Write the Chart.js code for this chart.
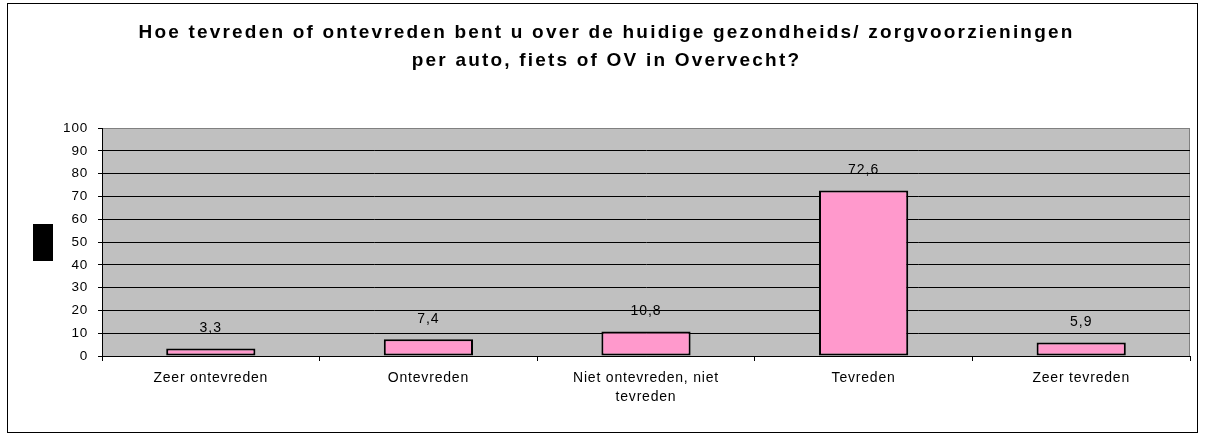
<!DOCTYPE html>
<html>
<head>
<meta charset="utf-8">
<script src="https://cdn.jsdelivr.net/npm/chart.js@4/dist/chart.umd.min.js"></script>
<style>
  html, body { margin: 0; padding: 0; background: #fff; }
  #wrap { width: 1207px; height: 436px; position: relative; }
</style>
</head>
<body>
<div id="wrap"><canvas id="chart"></canvas></div>
<script>
'use strict';

// Data
const categories = [
    'Zeer ontevreden',
    'Ontevreden',
    ['Niet ontevreden, niet', 'tevreden'],
    'Tevreden',
    'Zeer tevreden',
];
const percentages = [3.3, 7.4, 10.8, 72.6, 5.9];
const yTicks = [0, 10, 20, 30, 40, 50, 60, 70, 80, 90, 100];
const titleLines = [
    'Hoe tevreden of ontevreden bent u over de huidige gezondheids/ zorgvoorzieningen',
    'per auto, fiets of OV in Overvecht?',
];

const FONT = 'Arial, "Liberation Sans", sans-serif';

// Grey plot background, outer frame, title and the small black legend key
const frame = {
    id: 'frame',
    beforeDraw(chart) {
        const { ctx, chartArea: a } = chart;
        ctx.save();
        ctx.fillStyle = '#c0c0c0';
        ctx.fillRect(a.left, a.top, a.right - a.left, a.bottom - a.top);
        ctx.strokeStyle = '#808080';
        ctx.lineWidth = 1;
        ctx.strokeRect(a.left + 0.5, a.top + 0.5, a.right - a.left - 1, a.bottom - a.top);
        ctx.strokeStyle = '#000';
        ctx.strokeRect(7.5, 3.5, 1190, 429);
        ctx.fillStyle = '#000';
        ctx.fillRect(33, 224, 20, 37);

        // title, spaced out like the original
        ctx.font = 'bold 19px ' + FONT;
        ctx.letterSpacing = '2.2px';
        ctx.textAlign = 'center';
        ctx.textBaseline = 'alphabetic';
        titleLines.forEach((line, i) => {
            ctx.fillText(line, chart.width / 2 + 3, 38 + i * 28);
        });
        ctx.restore();
        // slight spacing for axis labels drawn by the library
        ctx.letterSpacing = '0.8px';
    },
};

// Value labels above the bars
const valueLabels = {
    id: 'valueLabels',
    afterDatasetsDraw(chart) {
        const { ctx } = chart;
        const meta = chart.getDatasetMeta(0);
        ctx.save();
        ctx.font = '14px ' + FONT;
        ctx.letterSpacing = '1px';
        ctx.fillStyle = '#000';
        ctx.textAlign = 'center';
        ctx.textBaseline = 'middle';
        meta.data.forEach((bar, i) => {
            const txt = percentages[i].toFixed(1).replace('.', ',');
            ctx.fillText(txt, bar.x, bar.y - 20);
        });
        ctx.restore();
    },
};

new Chart(document.getElementById('chart'), {
    type: 'bar',
    data: {
        labels: categories,
        datasets: [
            {
                data: percentages,
                backgroundColor: '#ff99cc',
                borderColor: '#000',
                borderWidth: 2,
                borderSkipped: false,
                categoryPercentage: 1,
                barPercentage: 0.41,
            },
        ],
    },
    options: {
        responsive: true,
        maintainAspectRatio: false,
        animation: false,
        layout: { padding: { left: 0, right: 17, top: 128, bottom: 0 } },
        plugins: {
            legend: { display: false },
            tooltip: { enabled: false },
            title: { display: false },
        },
        scales: {
            x: {
                grid: {
                    offset: true,
                    drawOnChartArea: false,
                    color: '#000',
                    tickLength: 5,
                },
                border: { color: '#000', width: 1 },
                ticks: {
                    color: '#000',
                    font: { family: FONT, size: 14, lineHeight: 19 / 14 },
                    padding: 8,
                    maxRotation: 0,
                    autoSkip: false,
                },
                afterFit(scale) {
                    scale.height = 80;
                },
            },
            y: {
                min: 0,
                max: 100,
                afterBuildTicks(scale) {
                    scale.ticks = yTicks.map((v) => ({ value: v }));
                },
                grid: {
                    color: (c) => (c.tick && c.tick.value === 100 ? '#808080' : '#000'),
                    tickColor: '#000',
                    tickLength: 4,
                },
                border: { color: '#000', width: 1 },
                ticks: {
                    color: '#000',
                    font: { family: FONT, size: 13.5 },
                    padding: 10,
                },
                afterFit(scale) {
                    scale.width = 102;
                },
            },
        },
    },
    plugins: [frame, valueLabels],
});
</script>
</body>
</html>
